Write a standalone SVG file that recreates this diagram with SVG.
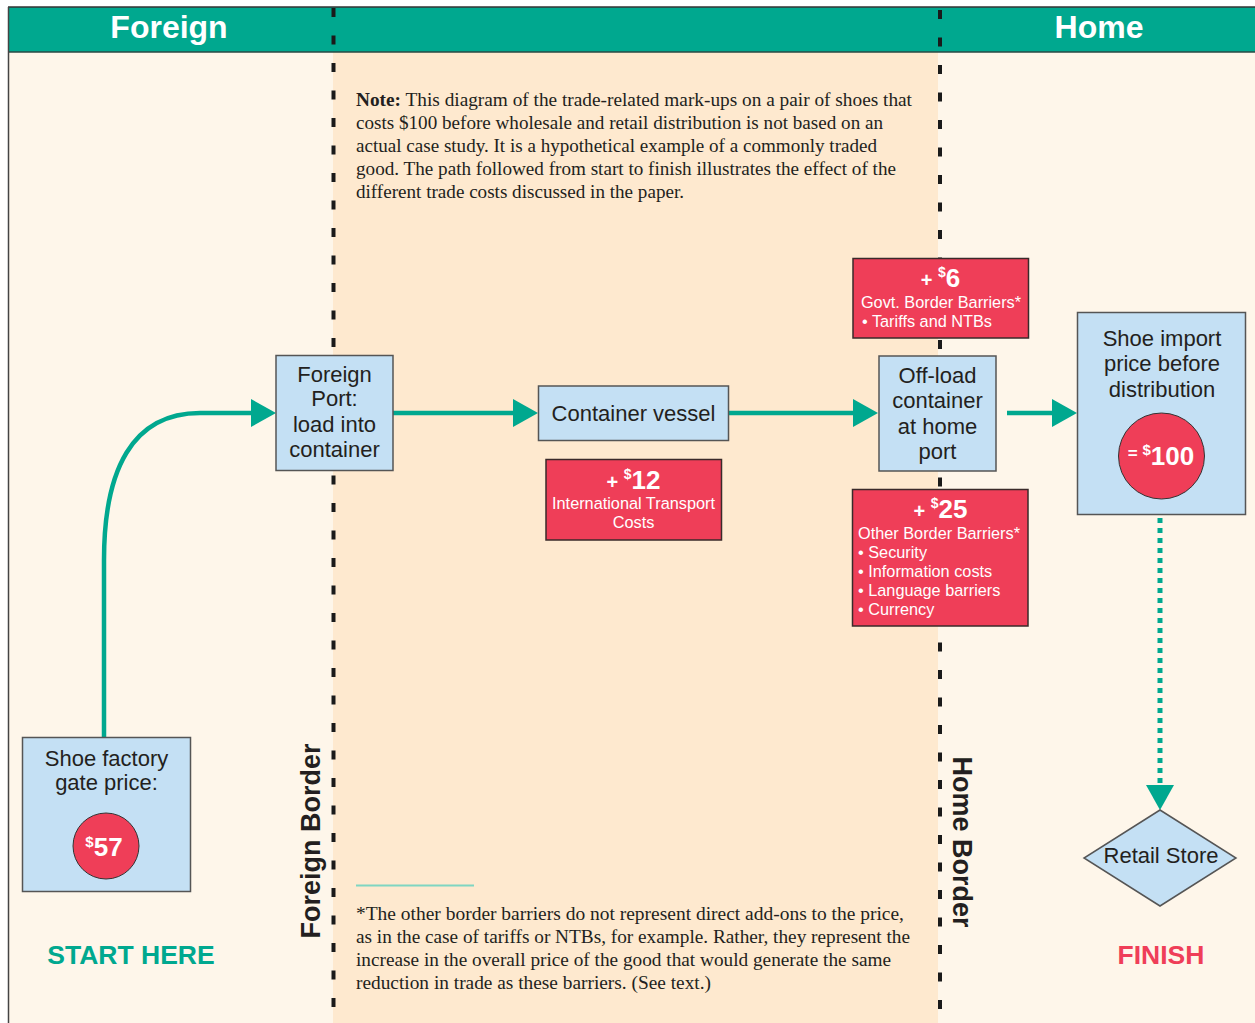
<svg xmlns="http://www.w3.org/2000/svg" width="1255" height="1023" viewBox="0 0 1255 1023">
<defs>
<style>
.bg{fill:#FEF6EA}
.mid{fill:#FEE9CF}
.hdr{fill:#00A88F}
.hdrtxt{font-family:"Liberation Sans",Arial,sans-serif;font-weight:bold;font-size:32px;fill:#fff;text-anchor:middle}
.border{stroke:#1a1a1a;stroke-width:4;stroke-dasharray:9 18.5;fill:none}
.blue{fill:#C4E0F4;stroke:#555;stroke-width:1.5}
.red{fill:#EF3E58;stroke:#3a2a2a;stroke-width:1.5}
.nt{font-family:"Liberation Sans",Arial,sans-serif;font-size:22px;fill:#231F20;text-anchor:middle}
.rt{font-family:"Liberation Sans",Arial,sans-serif;font-size:16.3px;fill:#fff}
.rc{text-anchor:middle}
.big{font-family:"Liberation Sans",Arial,sans-serif;font-weight:bold;fill:#fff;text-anchor:middle}
.conn{stroke:#00A88F;stroke-width:4.5;fill:none}
.dot{stroke:#00A88F;stroke-width:5;stroke-dasharray:5 5;fill:none}
.serif{font-family:"Liberation Serif","Times New Roman",serif;font-size:18px;fill:#231F20}
.lbl{font-family:"Liberation Sans",Arial,sans-serif;font-weight:bold;font-size:26.5px;text-anchor:middle}
.side{font-family:"Liberation Sans",Arial,sans-serif;font-weight:bold;font-size:27px;fill:#231F20;text-anchor:middle}
</style>
<marker id="ah" markerWidth="25" markerHeight="28" refX="0" refY="14" orient="auto" markerUnits="userSpaceOnUse">
<path d="M0,0 L25,14 L0,28 Z" fill="#00A88F"/>
</marker>
</defs>

<g id="background">
<rect x="0" y="0" width="1255" height="1023" fill="#fff"/>
<rect class="bg" x="8" y="7" width="1247" height="1016"/>
<rect class="mid" x="333" y="52" width="605" height="971"/>
<rect class="hdr" x="8" y="7" width="1247" height="45"/>
<line x1="8" y1="7" x2="1255" y2="7" stroke="#333" stroke-width="1.5"/>
<line x1="8" y1="52" x2="1255" y2="52" stroke="#2a4a44" stroke-width="1.5"/>
<line x1="8.5" y1="7" x2="8.5" y2="1023" stroke="#444" stroke-width="1.5"/>
<text class="hdrtxt" x="169" y="38">Foreign</text>
<text class="hdrtxt" x="1099" y="38">Home</text>
<line class="border" x1="333.5" y1="8" x2="333.5" y2="1023"/>
<line class="border" x1="940" y1="10" x2="940" y2="1023"/>
<text class="side" transform="translate(320,841) rotate(-90)">Foreign Border</text>
<text class="side" transform="translate(953,842) rotate(90)">Home Border</text>
</g>

<g id="note">
<text class="serif">
<tspan x="356" y="106" textLength="556" lengthAdjust="spacingAndGlyphs"><tspan font-weight="bold">Note:</tspan> This diagram of the trade-related mark-ups on a pair of shoes that</tspan>
<tspan x="356" y="129" textLength="527" lengthAdjust="spacingAndGlyphs">costs $100 before wholesale and retail distribution is not based on an</tspan>
<tspan x="356" y="152" textLength="521" lengthAdjust="spacingAndGlyphs">actual case study. It is a hypothetical example of a commonly traded</tspan>
<tspan x="356" y="175" textLength="540" lengthAdjust="spacingAndGlyphs">good. The path followed from start to finish illustrates the effect of the</tspan>
<tspan x="356" y="198" textLength="328" lengthAdjust="spacingAndGlyphs">different trade costs discussed in the paper.</tspan>
</text>
</g>

<g id="footnote">
<line x1="356" y1="885.5" x2="474" y2="885.5" stroke="#7FD6C2" stroke-width="2"/>
<text class="serif">
<tspan x="356" y="920" textLength="548" lengthAdjust="spacingAndGlyphs">*The other border barriers do not represent direct add-ons to the price,</tspan>
<tspan x="356" y="943" textLength="554" lengthAdjust="spacingAndGlyphs">as in the case of tariffs or NTBs, for example.  Rather, they represent the</tspan>
<tspan x="356" y="966" textLength="535" lengthAdjust="spacingAndGlyphs">increase in the overall price of the good that would generate the same</tspan>
<tspan x="356" y="989" textLength="355" lengthAdjust="spacingAndGlyphs">reduction in trade as these barriers. (See text.)</tspan>
</text>
</g>

<g id="connectors">
<path class="conn" d="M104,737 V560 C104,470 132,413 200,413 H251" marker-end="url(#ah)"/>
<path class="conn" d="M393,413 H513" marker-end="url(#ah)"/>
<path class="conn" d="M729,413 H853" marker-end="url(#ah)"/>
<path class="conn" d="M1007,413 H1052" marker-end="url(#ah)"/>
<path class="dot" d="M1160,518 V785"/>
<path d="M1146,785 L1174,785 L1160,810 Z" fill="#00A88F"/>
</g>

<g id="factory">
<rect class="blue" x="22.5" y="737.5" width="168" height="154"/>
<text class="nt" x="106.5" y="766">Shoe factory</text>
<text class="nt" x="106.5" y="790">gate price:</text>
<circle cx="106" cy="846" r="33" fill="#EF3E58" stroke="#333" stroke-width="1"/>
<text class="big" x="104" y="856"><tspan font-size="15" dy="-9">$</tspan><tspan font-size="26" dy="9">57</tspan></text>
</g>

<g id="foreign-port">
<rect class="blue" x="276" y="355.5" width="117" height="115"/>
<text class="nt" x="334.5" y="382">Foreign</text>
<text class="nt" x="334.5" y="406">Port:</text>
<text class="nt" x="334.5" y="432">load into</text>
<text class="nt" x="334.5" y="457">container</text>
</g>

<g id="container-vessel">
<rect class="blue" x="538.5" y="386" width="190" height="54.5"/>
<text class="nt" x="633.5" y="421">Container vessel</text>
</g>

<g id="transport-cost">
<rect class="red" x="546" y="459.5" width="175.5" height="80.5"/>
<text class="big" x="633.5" y="489"><tspan font-size="20">+ </tspan><tspan font-size="14" dy="-10">$</tspan><tspan font-size="26" dy="10">12</tspan></text>
<text class="rt rc" x="633.5" y="509">International Transport</text>
<text class="rt rc" x="633.5" y="528">Costs</text>
</g>

<g id="govt-barriers">
<rect class="red" x="853" y="258.5" width="175.5" height="79.5"/>
<text class="big" x="940.5" y="287"><tspan font-size="20">+ </tspan><tspan font-size="14" dy="-10">$</tspan><tspan font-size="26" dy="10">6</tspan></text>
<text class="rt rc" x="941" y="308">Govt. Border Barriers*</text>
<text class="rt" x="862" y="327">• Tariffs and NTBs</text>
</g>

<g id="offload">
<rect class="blue" x="879" y="356" width="117" height="115"/>
<text class="nt" x="937.5" y="383">Off-load</text>
<text class="nt" x="937.5" y="408">container</text>
<text class="nt" x="937.5" y="434">at home</text>
<text class="nt" x="937.5" y="459">port</text>
</g>

<g id="other-barriers">
<rect class="red" x="852.5" y="489.5" width="175.5" height="136.5"/>
<text class="big" x="940.5" y="518"><tspan font-size="20">+ </tspan><tspan font-size="14" dy="-10">$</tspan><tspan font-size="26" dy="10">25</tspan></text>
<text class="rt" x="858" y="539">Other Border Barriers*</text>
<text class="rt" x="858" y="558">• Security</text>
<text class="rt" x="858" y="577">• Information costs</text>
<text class="rt" x="858" y="596">• Language barriers</text>
<text class="rt" x="858" y="615">• Currency</text>
</g>

<g id="import-price">
<rect class="blue" x="1077.5" y="312.5" width="168" height="202"/>
<text class="nt" x="1162" y="346">Shoe import</text>
<text class="nt" x="1162" y="371">price before</text>
<text class="nt" x="1162" y="397">distribution</text>
<circle cx="1161.5" cy="456" r="43" fill="#EF3E58" stroke="#333" stroke-width="1"/>
<text class="big" x="1161" y="465"><tspan font-size="17" dy="-6">= </tspan><tspan font-size="15" dy="-4">$</tspan><tspan font-size="26" dy="10">100</tspan></text>
</g>

<g id="retail-store">
<path class="blue" d="M1160,810 L1236,858 L1160,906 L1084,858 Z" stroke="#333" stroke-width="1.2"/>
<text class="nt" x="1161" y="863">Retail Store</text>
</g>

<g id="labels">
<text class="lbl" x="131" y="964" fill="#00A88F">START HERE</text>
<text class="lbl" x="1161" y="964" fill="#EF3E58">FINISH</text>
</g>
</svg>
